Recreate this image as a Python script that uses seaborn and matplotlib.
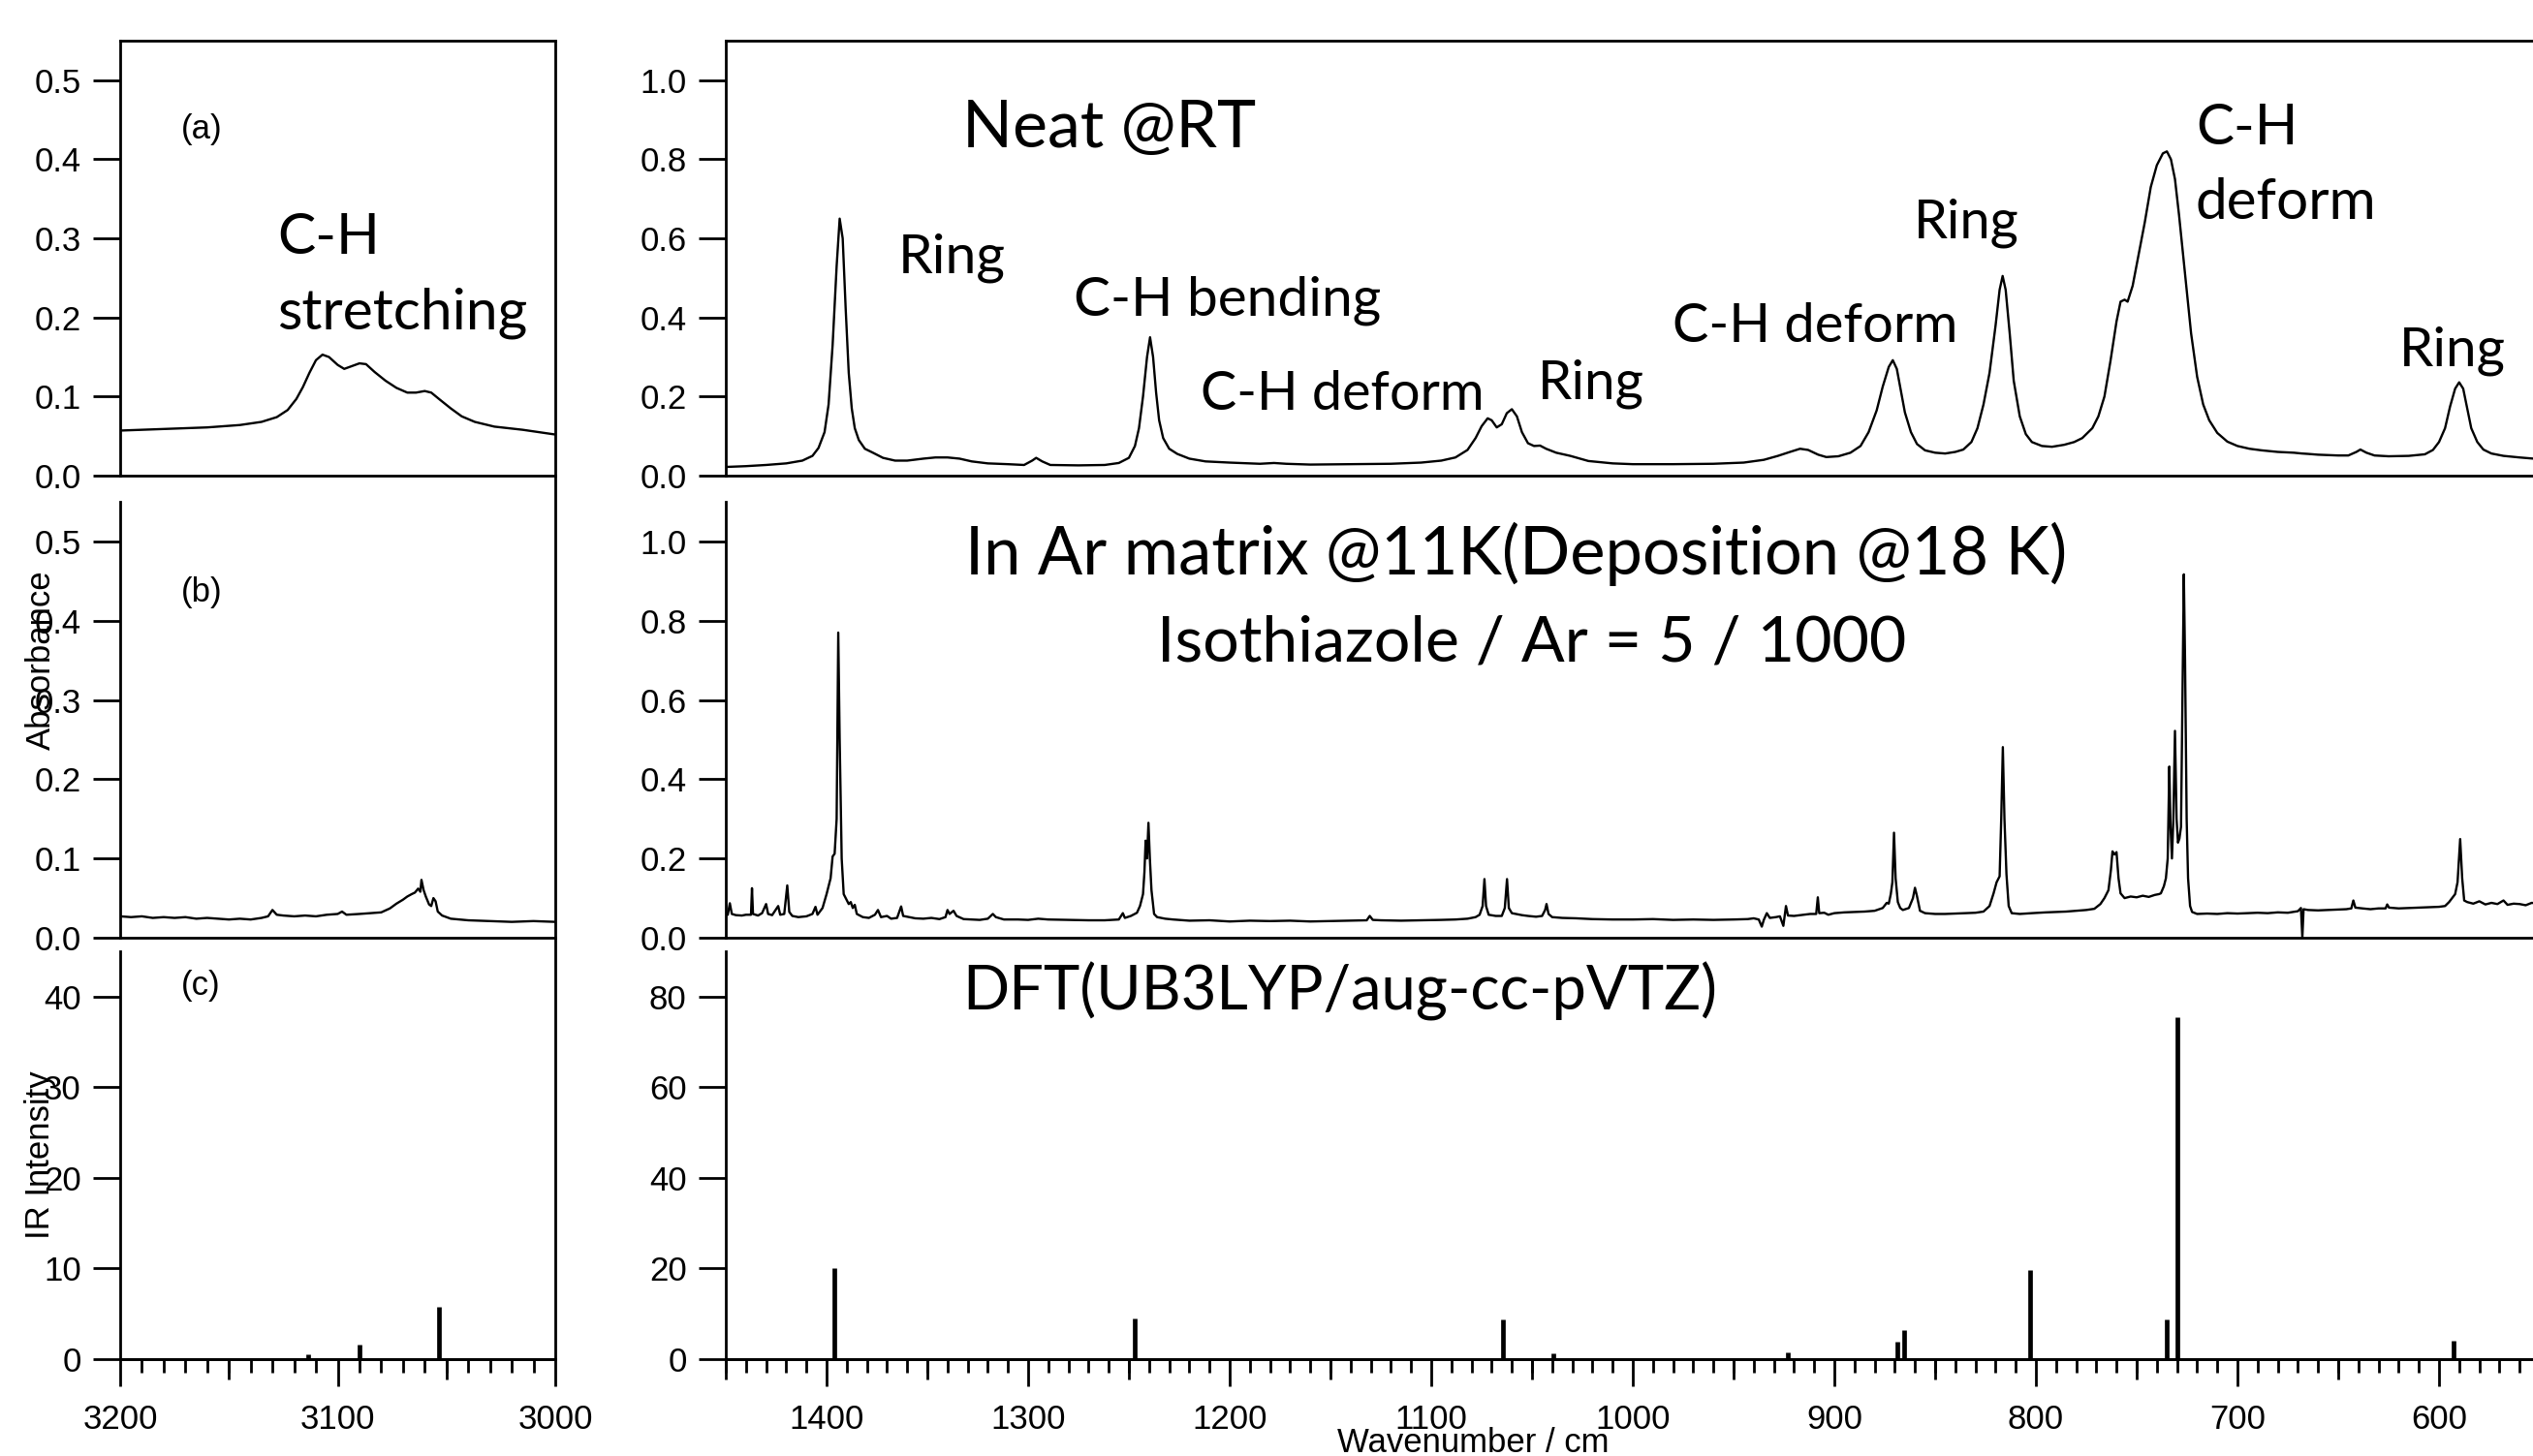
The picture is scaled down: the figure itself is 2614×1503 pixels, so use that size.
import matplotlib
matplotlib.use("Agg")
import matplotlib.pyplot as plt
from matplotlib.lines import Line2D
from matplotlib.ticker import MultipleLocator, NullLocator, FixedLocator
import seaborn as sns

# ---------------- data ----------------
# (a) neat liquid, C-H stretching region
neat_ch_wn = [3200, 3180, 3160, 3145, 3135, 3128, 3123, 3119, 3116, 3113, 3110, 3107,
              3104, 3100, 3097, 3094, 3090, 3087, 3083, 3078, 3073, 3068, 3064, 3060,
              3057, 3053, 3048, 3043, 3037, 3028, 3015, 3000]
neat_ch_abs = [0.057, 0.059, 0.061, 0.064, 0.068, 0.074, 0.083, 0.097, 0.112, 0.130, 0.146, 0.153,
               0.150, 0.140, 0.135, 0.138, 0.142, 0.141, 0.131, 0.120, 0.111, 0.105, 0.105, 0.107,
               0.105, 0.096, 0.085, 0.075, 0.068, 0.062, 0.058, 0.052]

# (a) neat liquid, fingerprint region
neat_wn = [1450, 1440, 1430, 1420, 1412, 1407, 1404, 1401, 1399, 1397, 1395, 1393.5, 1392, 1390.5,
           1389, 1387.5, 1386, 1384, 1381, 1377, 1372, 1366, 1360, 1352, 1346, 1340, 1334, 1328,
           1320, 1310, 1302, 1298, 1296, 1293, 1289, 1275, 1262, 1255, 1250, 1247, 1245, 1243,
           1241, 1239.5, 1238, 1236.5, 1235, 1233, 1230, 1226, 1220, 1212, 1200, 1185, 1178, 1172,
           1160, 1140, 1120, 1105, 1095, 1088, 1082, 1078, 1075, 1072, 1070, 1067.5, 1065, 1062.5,
           1060, 1057.5, 1055, 1052, 1049, 1046, 1043, 1038, 1031, 1022, 1010, 1000, 980, 960,
           945, 935, 928, 922, 917, 913, 908, 904, 898, 892, 887, 883, 879, 876, 873, 871, 869,
           867, 865, 862, 859, 855, 850, 845, 840, 836, 832, 829, 826, 823, 820, 818, 816.5, 815,
           813, 811, 808, 805, 802, 797, 792, 786, 781, 777, 772, 769, 766, 763, 760, 758, 756,
           754.5, 752, 749, 746, 743, 740, 737, 735, 733, 731, 729, 727, 725, 723, 720, 717, 714,
           710, 705, 700, 694, 688, 680, 672, 668, 665, 660, 650, 645, 641, 639, 636, 632, 625,
           615, 607, 603, 600, 597, 594.5, 592, 590, 588, 586, 584, 581, 578, 574, 568, 560, 553, 550]
neat_abs = [0.022, 0.024, 0.027, 0.031, 0.038, 0.050, 0.070, 0.110, 0.180, 0.330, 0.530, 0.650, 0.600, 0.420,
            0.260, 0.170, 0.120, 0.090, 0.068, 0.058, 0.045, 0.038, 0.038, 0.043, 0.046, 0.046, 0.043, 0.036,
            0.031, 0.029, 0.027, 0.038, 0.045, 0.036, 0.027, 0.026, 0.027, 0.032, 0.045, 0.075, 0.120, 0.200,
            0.300, 0.350, 0.300, 0.210, 0.140, 0.095, 0.068, 0.055, 0.043, 0.036, 0.033, 0.030, 0.032, 0.030,
            0.028, 0.029, 0.030, 0.033, 0.038, 0.046, 0.065, 0.095, 0.125, 0.145, 0.140, 0.122, 0.130, 0.158,
            0.168, 0.150, 0.110, 0.082, 0.075, 0.076, 0.068, 0.058, 0.050, 0.037, 0.031, 0.029, 0.029, 0.030,
            0.033, 0.040, 0.050, 0.060, 0.068, 0.065, 0.053, 0.047, 0.049, 0.058, 0.075, 0.110, 0.165, 0.225,
            0.275, 0.292, 0.270, 0.215, 0.160, 0.110, 0.080, 0.064, 0.058, 0.056, 0.060, 0.066, 0.085, 0.120,
            0.180, 0.260, 0.380, 0.470, 0.505, 0.470, 0.360, 0.240, 0.150, 0.105, 0.085, 0.075, 0.073, 0.078,
            0.085, 0.095, 0.120, 0.150, 0.200, 0.290, 0.390, 0.440, 0.445, 0.440, 0.480, 0.560, 0.640, 0.730,
            0.785, 0.815, 0.820, 0.800, 0.750, 0.660, 0.560, 0.460, 0.360, 0.250, 0.180, 0.140, 0.108, 0.086,
            0.075, 0.068, 0.064, 0.060, 0.058, 0.056, 0.055, 0.053, 0.051, 0.051, 0.060, 0.066, 0.058, 0.051,
            0.049, 0.050, 0.054, 0.065, 0.085, 0.120, 0.175, 0.220, 0.236, 0.220, 0.170, 0.120, 0.085, 0.066,
            0.056, 0.050, 0.046, 0.043, 0.042]

# (b) Ar matrix, C-H stretching region
mat_ch_wn = [3200, 3195, 3190, 3185, 3180, 3175, 3170, 3165, 3160, 3155, 3150, 3145, 3140, 3135,
             3132, 3130, 3128, 3125, 3120, 3115, 3110, 3105, 3100, 3098, 3096, 3090, 3085, 3080,
             3076, 3073, 3070, 3068, 3066, 3064.5, 3063, 3062, 3061.5, 3060.5, 3059.5, 3058, 3057,
             3056, 3055, 3054, 3052, 3048, 3040, 3030, 3020, 3010, 3000]
mat_ch_abs = [0.027, 0.026, 0.027, 0.025, 0.026, 0.025, 0.026, 0.024, 0.025, 0.024, 0.023, 0.024, 0.023, 0.025,
              0.027, 0.035, 0.029, 0.028, 0.027, 0.028, 0.027, 0.029, 0.030, 0.033, 0.029, 0.030, 0.031, 0.032,
              0.037, 0.043, 0.048, 0.052, 0.055, 0.057, 0.062, 0.058, 0.073, 0.060, 0.052, 0.042, 0.040,
              0.050, 0.046, 0.033, 0.028, 0.024, 0.022, 0.021, 0.020, 0.021, 0.020]

# (b) Ar matrix, fingerprint region
mat_wn = [1450, 1449, 1448, 1447, 1445, 1442, 1440, 1437.5, 1437, 1436.5, 1434, 1432, 1430, 1429, 1427,
          1424, 1423, 1421, 1419.5, 1418.5, 1417, 1414, 1410, 1407, 1405.5, 1404.5, 1402, 1400, 1398,
          1397, 1396, 1395, 1394.2, 1393.5, 1392.5, 1391.5, 1390, 1389, 1388, 1387, 1386, 1385, 1382,
          1379, 1376, 1374.5, 1373, 1370, 1368, 1365, 1363, 1362, 1359, 1356, 1352, 1348, 1344, 1341,
          1340, 1339, 1337, 1335.5, 1332, 1328, 1324, 1320, 1317.5, 1316, 1312, 1305, 1300, 1295, 1290,
          1280, 1270, 1262, 1255, 1253, 1252, 1249, 1246, 1244.5, 1243, 1242.3, 1241.7, 1241, 1240.3,
          1239.6, 1238.8, 1237.5, 1236, 1232, 1228, 1220, 1210, 1200, 1190, 1180, 1170, 1160, 1150,
          1140, 1132, 1130.5, 1129, 1125, 1115, 1105, 1095, 1088, 1082, 1078, 1076, 1074.5, 1073.6,
          1072.8, 1071.5, 1068, 1065, 1063.5, 1062.4, 1061.5, 1060, 1058, 1055, 1052, 1048, 1045,
          1043.5, 1042.8, 1041.8, 1040, 1035, 1028, 1020, 1010, 1000, 990, 980, 970, 960, 950, 943,
          940, 937.5, 936, 935, 933.5, 932, 929, 927, 925.3, 924, 923, 920, 915, 912, 909, 908.2,
          907.5, 905, 903, 900, 895, 890, 885, 880, 876, 874, 873, 872, 871.2, 870.4, 869.6, 868.5,
          867.3, 866, 863, 861, 860, 859, 857.5, 855, 850, 845, 840, 835, 830, 826, 823, 821, 819.5,
          818, 817.2, 816.4, 815.6, 814.6, 813.5, 812, 808, 802, 795, 790, 785, 780, 775, 771, 768,
          766, 764, 762.8, 762, 761, 760, 759, 758, 756, 753, 750, 747, 744, 741, 739, 738, 736.5,
          735.5, 734.6, 733.8, 733.2, 732.5, 731.8, 731, 730.2, 729.5, 728.8, 728, 727.3, 726.6, 726,
          725.2, 724.5, 723.5, 722.5, 720, 715, 710, 705, 700, 695, 690, 685, 680, 675, 670, 668.5,
          667.8, 667.2, 665, 660, 655, 650, 646, 643.5, 642.5, 641.5, 638, 634, 630, 626.5, 625.7,
          624.8, 620, 615, 610, 605, 600, 597, 595, 593.5, 592, 590.8, 589.5, 588.5, 587.5, 586, 583,
          580, 577, 574, 571, 568, 566, 563, 560, 557, 554, 550]
mat_abs = [0.060, 0.058, 0.087, 0.060, 0.057, 0.056, 0.058, 0.058, 0.125, 0.060, 0.056, 0.062, 0.085, 0.060, 0.057,
           0.080, 0.058, 0.060, 0.132, 0.065, 0.055, 0.052, 0.054, 0.060, 0.078, 0.058, 0.075, 0.110, 0.150,
           0.205, 0.212, 0.300, 0.770, 0.500, 0.200, 0.110, 0.095, 0.085, 0.090, 0.075, 0.083, 0.060, 0.052,
           0.050, 0.058, 0.070, 0.052, 0.055, 0.048, 0.050, 0.079, 0.055, 0.052, 0.049, 0.048, 0.050, 0.047, 0.052,
           0.070, 0.060, 0.068, 0.055, 0.047, 0.046, 0.045, 0.048, 0.060, 0.052, 0.046, 0.046, 0.045, 0.048, 0.046,
           0.045, 0.044, 0.044, 0.046, 0.062, 0.050, 0.055, 0.063, 0.080, 0.110, 0.165, 0.245, 0.200, 0.290,
           0.200, 0.120, 0.060, 0.052, 0.048, 0.046, 0.043, 0.044, 0.041, 0.043, 0.042, 0.043, 0.041, 0.042,
           0.043, 0.044, 0.055, 0.045, 0.044, 0.043, 0.044, 0.045, 0.046, 0.048, 0.052, 0.058, 0.080, 0.148,
           0.080, 0.058, 0.055, 0.055, 0.075, 0.148, 0.075, 0.062, 0.060, 0.057, 0.055, 0.053, 0.055,
           0.070, 0.085, 0.060, 0.052, 0.050, 0.049, 0.047, 0.046, 0.046, 0.047, 0.045, 0.046, 0.045, 0.046, 0.047,
           0.049, 0.046, 0.028, 0.045, 0.062, 0.050, 0.052, 0.054, 0.030, 0.080, 0.056, 0.055, 0.058, 0.060, 0.060, 0.102,
           0.062, 0.063, 0.058, 0.062, 0.064, 0.065, 0.066, 0.068, 0.075, 0.088, 0.086, 0.110, 0.140, 0.265, 0.150, 0.090,
           0.075, 0.070, 0.075, 0.100, 0.126, 0.105, 0.068, 0.062, 0.060, 0.060, 0.061, 0.062, 0.063, 0.066, 0.080, 0.112, 0.140,
           0.155, 0.300, 0.481, 0.300, 0.160, 0.080, 0.062, 0.060, 0.062, 0.064, 0.065, 0.066, 0.068, 0.070, 0.073, 0.085,
           0.100, 0.120, 0.170, 0.218, 0.210, 0.216, 0.150, 0.112, 0.100, 0.104, 0.102, 0.106, 0.103, 0.108, 0.110, 0.112, 0.130,
           0.150, 0.200, 0.432, 0.280, 0.200, 0.300, 0.522, 0.300, 0.240, 0.250, 0.280, 0.600, 0.917, 0.700,
           0.300, 0.150, 0.080, 0.065, 0.060, 0.061, 0.060, 0.062, 0.061, 0.062, 0.063, 0.062, 0.064, 0.063, 0.067, 0.075,
           0.000, 0.072, 0.070, 0.069, 0.070, 0.071, 0.072, 0.074, 0.094, 0.076, 0.074, 0.072, 0.074, 0.074, 0.084,
           0.076, 0.074, 0.075, 0.076, 0.077, 0.078, 0.080, 0.090, 0.100, 0.110, 0.140, 0.249, 0.150, 0.094, 0.090, 0.086,
           0.092, 0.084, 0.088, 0.085, 0.094, 0.083, 0.086, 0.085, 0.082, 0.088, 0.086]

# (c) DFT stick spectrum
dft_ch_wn = [3113.6, 3090.0, 3053.3]
dft_ch_int = [0.5, 1.6, 5.8]
dft_wn = [1396.0, 1247.0, 1064.3, 1039.2, 923.0, 868.6, 865.5, 803.1, 735.3, 729.6, 592.8]
dft_int = [20.0, 9.0, 8.7, 1.3, 1.5, 3.9, 6.4, 19.6, 8.8, 75.5, 4.1]

# tick labels
ab_left_ticks = [0.0, 0.1, 0.2, 0.3, 0.4, 0.5]
ab_right_ticks = [0.0, 0.2, 0.4, 0.6, 0.8, 1.0]
ir_left_ticks = [0, 10, 20, 30, 40]
ir_right_ticks = [0, 20, 40, 60, 80]
x_left_major = [3200, 3100, 3000]
x_left_mid = [3150, 3050]
x_right_major = [1400, 1300, 1200, 1100, 1000, 900, 800, 700, 600]
x_right_mid = [1450, 1350, 1250, 1150, 1050, 950, 850, 750, 650, 550]

# annotation blocks: lines, left px, width px (of the widest line), first baseline px, line step px
annotations = [
    (["C-H", "stretching"], 286, 258, 262, 77),
    (["Neat @RT"], 993, 303, 152, 0),
    (["Ring"], 927, 111, 281, 0),
    (["C-H bending"], 1108, 317, 325, 0),
    (["C-H deform"], 1239, 293, 423, 0),
    (["Ring"], 1587, 110, 412, 0),
    (["C-H deform"], 1726, 294, 353, 0),
    (["Ring"], 1975, 109, 245, 0),
    (["C-H", "deform"], 2266, 187, 149, 77),
    (["Ring"], 2476, 110, 377, 0),
    (["In Ar matrix @11K(Deposition @18 K)"], 996, 1138, 593, 0),
    (["Isothiazole / Ar = 5 / 1000"], 1194, 773, 683, 0),
    (["DFT(UB3LYP/aug-cc-pVTZ)"], 993, 779, 1043, 0),
]

# ---------------- style ----------------
W, H, DPI = 2614, 1503, 100
sns.set_theme(style="white")
plt.rcParams["font.family"] = ["Liberation Sans", "DejaVu Sans"]
plt.rcParams.update({"text.color": "black", "axes.labelcolor": "black",
                     "xtick.color": "black", "ytick.color": "black",
                     "axes.edgecolor": "black"})
ANNOT_FAMILY = ["Lato", "DejaVu Sans"]
LW_AX = 2.0
FS = 25

fig = plt.figure(figsize=(W / DPI, H / DPI), dpi=DPI)
fig.patch.set_facecolor("white")


def px_axes(x0, x1, y0, y1):
    return fig.add_axes([x0 / W, 1 - y1 / H, (x1 - x0) / W, (y1 - y0) / H])


COLS = {"L": (124, 573), "R": (749, 2621)}
ROWS = {"a": (42, 491), "b": (518, 968), "c": (982, 1403)}


def style(ax, row, xlim, ylim, yticks, fmt):
    ax.set_facecolor("none")
    ax.set_xlim(*xlim)
    ax.set_ylim(*ylim)
    for s in ax.spines.values():
        s.set_linewidth(LW_AX)
        s.set_color("black")
    ax.spines["top"].set_visible(row == "a")
    ax.spines["right"].set_visible(False)
    ax.set_yticks(yticks)
    ax.set_yticklabels([fmt(v) for v in yticks])
    ax.tick_params(axis="y", which="major", direction="out", left=True, length=20,
                   width=LW_AX, pad=9, labelsize=FS)
    ax.grid(False)
    ax.set_xlabel("")
    ax.set_ylabel("")


def bottom_ticks(ax, major, mid, labels):
    ax.xaxis.set_major_locator(FixedLocator(major))
    ax.set_xticklabels(labels)
    ax.xaxis.set_minor_locator(MultipleLocator(10))
    ax.tick_params(axis="x", which="major", direction="out", bottom=True, length=20,
                   width=LW_AX, pad=13, labelsize=FS)
    ax.tick_params(axis="x", which="minor", direction="out", bottom=True, length=10,
                   width=LW_AX)
    sec = ax.secondary_xaxis("bottom")
    sec.set_xticks(mid)
    sec.xaxis.set_minor_locator(NullLocator())
    sec.tick_params(axis="x", which="major", direction="out", bottom=True, length=15,
                    width=LW_AX, labelbottom=False)
    for s in sec.spines.values():
        s.set_linewidth(LW_AX)
        s.set_color("black")


def no_x(ax):
    ax.xaxis.set_major_locator(NullLocator())
    ax.xaxis.set_minor_locator(NullLocator())
    ax.tick_params(axis="x", bottom=False, labelbottom=False)


f1 = lambda v: f"{v:.1f}"
f0 = lambda v: f"{int(v)}"

axes = {}
for r in "abc":
    for c in "LR":
        axes[r + c] = px_axes(*COLS[c], *ROWS[r])

# spectra
line_kw = dict(color="black", linewidth=1.7, sort=False, estimator=None, legend=False)
sns.lineplot(x=neat_ch_wn, y=neat_ch_abs, ax=axes["aL"], **line_kw)
sns.lineplot(x=neat_wn, y=neat_abs, ax=axes["aR"], **line_kw)
sns.lineplot(x=mat_ch_wn, y=mat_ch_abs, ax=axes["bL"], **line_kw)
sns.lineplot(x=mat_wn, y=mat_abs, ax=axes["bR"], **line_kw)
axes["cL"].vlines(dft_ch_wn, 0, dft_ch_int, colors="black", linewidth=3.4)
axes["cR"].vlines(dft_wn, 0, dft_int, colors="black", linewidth=3.4)

style(axes["aL"], "a", (3200, 3000), (0, 0.55), ab_left_ticks, f1)
style(axes["bL"], "b", (3200, 3000), (0, 0.55), ab_left_ticks, f1)
style(axes["cL"], "c", (3200, 3000), (0, 45), ir_left_ticks, f0)
style(axes["aR"], "a", (1450, 550), (0, 1.1), ab_right_ticks, f1)
style(axes["bR"], "b", (1450, 550), (0, 1.1), ab_right_ticks, f1)
style(axes["cR"], "c", (1450, 550), (0, 90), ir_right_ticks, f0)
for k in ["aL", "bL", "aR", "bR"]:
    no_x(axes[k])
bottom_ticks(axes["cL"], x_left_major, x_left_mid, [str(v) for v in x_left_major])
bottom_ticks(axes["cR"], x_right_major, x_right_mid, [str(v) for v in x_right_major])

# continuous right frame line of the left column
fig.add_artist(Line2D([573 / W, 573 / W], [1 - 42 / H, 1 - 1403 / H],
                      transform=fig.transFigure, color="black", linewidth=LW_AX))

# panel letters
for lab, yc in [("(a)", 133), ("(b)", 612), ("(c)", 1018)]:
    fig.text(187 / W, 1 - yc / H, lab, fontsize=FS, ha="left", va="center")

# axis titles
fig.text(42 / W, 1 - 681 / H, "Absorbance", rotation=90, fontsize=FS, ha="center", va="center")
fig.text(42 / W, 1 - 1192 / H, "IR Intensity", rotation=90, fontsize=FS, ha="center", va="center")
fig.text(1520 / W, 1 - 1499 / H, "Wavenumber / cm", fontsize=FS, ha="center", va="baseline")

# annotations: one size per block, fitted so that the widest line matches the reference width
renderer = fig.canvas.get_renderer()
BASE = 48
for lines, x0, width, yb, step in annotations:
    texts = []
    for i, s in enumerate(lines):
        t = fig.text(x0 / W, 1 - (yb + i * step) / H, s, family=ANNOT_FAMILY,
                     fontsize=BASE, ha="left", va="baseline")
        texts.append(t)
    widest = max(t.get_window_extent(renderer).width for t in texts)
    for t in texts:
        t.set_fontsize(BASE * width / widest)

fig.savefig("out.png", dpi=DPI, facecolor="white")
